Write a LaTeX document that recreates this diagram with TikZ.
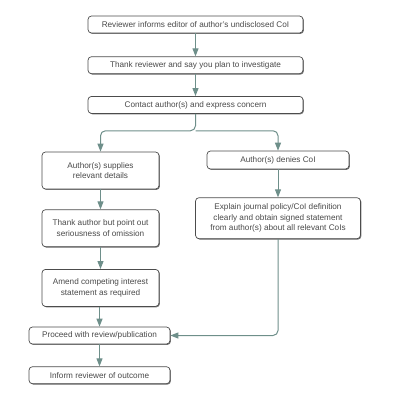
\documentclass[tikz,border=0pt]{standalone}
\usepackage{fontspec}
\setmainfont{Liberation Sans}
\usepackage{xcolor}
\usetikzlibrary{arrows.meta,positioning,calc,shadows}
\definecolor{linegray}{HTML}{6E8F8A}
\definecolor{textgray}{HTML}{4A4A4A}

\begin{document}
\begin{tikzpicture}[
    x=1pt, y=-1pt,
    box/.style={draw=black!70, rounded corners=3.5pt, line width=0.7pt, fill=white,
                align=center, font=\fontsize{8.2}{10.5}\selectfont, text=textgray, inner sep=1pt,
                drop shadow={shadow xshift=0.9pt, shadow yshift=-0.9pt, fill=black!55, opacity=1}},
    wide/.style={box, minimum width=215pt, minimum height=17pt},
    tall/.style={box, minimum width=117pt, minimum height=37pt},
    flat/.style={box, minimum width=141pt, minimum height=17pt},
    arr/.style={-{Triangle[length=8pt,width=6pt]}, draw=linegray, line width=1pt, rounded corners=5pt}
  ]
  \useasboundingbox (0,0) rectangle (394,400);

  \node[wide] (review) at (195.5,24.5) {Reviewer informs editor of author's undisclosed CoI};
  \node[wide, below=23pt of review] (thank) {Thank reviewer and say you plan to investigate};
  \node[wide, below=22pt of thank] (contact) {Contact author(s) and express concern};
  \node[tall] (supplies) at (100.5,170.5) {Author(s) supplies\\relevant details};
  \node[box, minimum width=142pt, minimum height=18pt] (denies) at (278,160) {Author(s) denies CoI};
  \node[box, minimum width=165pt, minimum height=41pt, below=28pt of denies] (explain)
    {Explain journal policy/CoI definition\\clearly and obtain signed statement\\from author(s) about all relevant CoIs};
  \node[tall, below=20pt of supplies] (point) {Thank author but point out\\seriousness of omission};
  \node[tall, below=22pt of point] (amend) {Amend competing interest\\statement as required};
  \node[flat] (proceed) at (99.5,335.5) {Proceed with review/publication};
  \node[flat, below=22pt of proceed] (inform) {Inform reviewer of outcome};

  \coordinate (split) at ($(contact.south)+(0,17)$);
  \draw[arr] (review) -- (thank);
  \draw[arr] (thank) -- (contact);
  \draw[arr] (contact.south) -- (split) -| (supplies.north);
  \draw[arr] (split) -| (denies.north);
  \draw[arr] (denies) -- (explain);
  \draw[arr] (supplies) -- (point);
  \draw[arr] (point) -- (amend);
  \draw[arr] (amend.south -| proceed.north) -- (proceed.north);
  \draw[arr] (explain.south) |- (proceed.east);
  \draw[arr] (proceed) -- (inform);
\end{tikzpicture}
\end{document}
